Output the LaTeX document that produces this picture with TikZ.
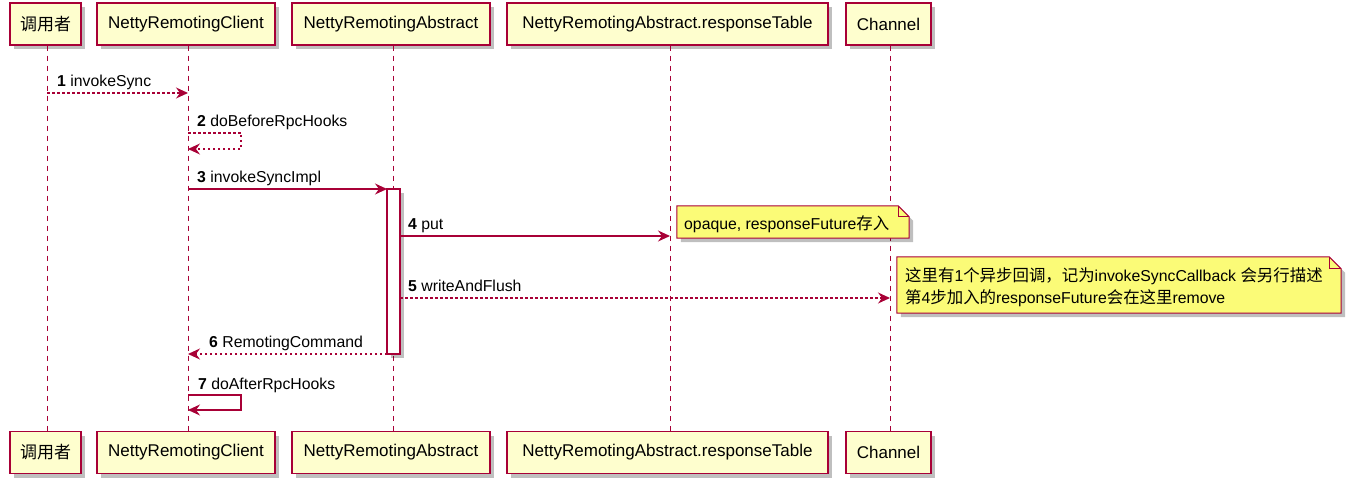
\documentclass[tikz,border=0pt]{standalone}
\usepackage{fontspec}
\setmainfont{Liberation Sans}
\newfontfamily\cjkf{Noto Sans CJK SC}
\newfontfamily\cjkn[Scale=1.04]{Noto Sans CJK SC}
\usetikzlibrary{arrows.meta,shadows}
\definecolor{pborder}{HTML}{A80036}
\definecolor{pfill}{HTML}{FEFECE}
\definecolor{nfill}{HTML}{FBFB77}
\newcommand{\zh}[1]{{\cjkf #1}}
\newcommand{\zn}[1]{{\cjkn #1}}
\tikzset{
  shad/.style={drop shadow={shadow xshift=4pt,shadow yshift=-4pt,opacity=0.25,fill=black}},
  part/.style={rectangle,draw=pborder,line width=1.5pt,fill=pfill,shad,
    minimum height=42pt,inner sep=0pt,font=\fontsize{17}{20}\selectfont},
  lifeline/.style={draw=pborder,line width=1pt,dash pattern=on 5pt off 5pt},
  tip/.style={-{Stealth[length=12pt,width=11pt,inset=4pt]}},
  smsg/.style={tip,draw=pborder,line width=1.1pt},
  dmsg/.style={tip,draw=pborder,line width=1.1pt,dash pattern=on 2.5pt off 2.5pt},
  lbl/.style={anchor=base west,inner sep=0pt,font=\fontsize{15.8}{19}\selectfont},
  notebox/.style={draw=pborder,line width=1pt,fill=nfill,shad},
  notetext/.style={anchor=west,inner sep=0pt,align=left,font=\fontsize{15.8}{22}\selectfont},
  act/.style={rectangle,draw=pborder,line width=1.3pt,fill=white,shad,inner sep=0pt}
}
\begin{document}
\begin{tikzpicture}[x=1pt,y=-1pt]
\useasboundingbox (0,0) rectangle (1355,486);
% participants
\node[part,minimum width=71pt]  (p1t) at (45.5,24) {\zh{调用者}};
\node[part,minimum width=178pt] (p2t) at (186,24) {NettyRemotingClient};
\node[part,minimum width=198pt] (p3t) at (391,24) {NettyRemotingAbstract};
\node[part,minimum width=321pt] (p4t) at (667.5,24) {NettyRemotingAbstract.responseTable};
\node[part,minimum width=85pt]  (p5t) at (888.5,24) {Channel};
\node[part,minimum width=71pt]  (p1b) at (45.5,452.5) {\zh{调用者}};
\node[part,minimum width=178pt] (p2b) at (186,452.5) {NettyRemotingClient};
\node[part,minimum width=198pt] (p3b) at (391,452.5) {NettyRemotingAbstract};
\node[part,minimum width=321pt] (p4b) at (667.5,452.5) {NettyRemotingAbstract.responseTable};
\node[part,minimum width=85pt]  (p5b) at (888.5,452.5) {Channel};
% lifelines
\draw[lifeline] ([xshift=1.5pt]p1t.south) -- ([xshift=1.5pt]p1b.north);
\draw[lifeline] ([xshift=2pt]p2t.south) -- ([xshift=2pt]p2b.north);
\draw[lifeline] ([xshift=2pt]p3t.south) -- ([xshift=2pt]p3b.north);
\draw[lifeline] ([xshift=2.5pt]p4t.south) -- ([xshift=2.5pt]p4b.north);
\draw[lifeline] ([xshift=1.5pt]p5t.south) -- ([xshift=1.5pt]p5b.north);
% activation
\node[act,minimum width=13pt,minimum height=165pt] (a3) at (393.5,271.5) {};
% coordinates
\coordinate (m1a) at (47,93);   \coordinate (m1b) at (188,93);
\coordinate (m2a) at (188,133); \coordinate (m2b) at (188,149);
\coordinate (m3a) at (188,189); \coordinate (m3b) at (387,189);
\coordinate (m4a) at (400,236); \coordinate (m4b) at (670,236);
\coordinate (m5a) at (400,298); \coordinate (m5b) at (890,298);
\coordinate (m6a) at (387,354); \coordinate (m6b) at (188,354);
\coordinate (m7a) at (188,395); \coordinate (m7b) at (188,410);
% messages
\draw[dmsg] (m1a) -- (m1b);
\node[lbl] (l1) at (57,87) {\textbf{1} invokeSync};
\draw[dmsg] (m2a) -- ++(53,0) |- (m2b);
\node[lbl] (l2) at (197,127) {\textbf{2} doBeforeRpcHooks};
\draw[smsg] (m3a) -- (m3b);
\node[lbl] (l3) at (197,183) {\textbf{3} invokeSyncImpl};
\draw[smsg] (m4a) -- (m4b);
\node[lbl] (l4) at (408,230) {\textbf{4} put};
\draw[dmsg] (m5a) -- (m5b);
\node[lbl] (l5) at (408,292) {\textbf{5} writeAndFlush};
\draw[dmsg] (m6a) -- (m6b);
\node[lbl] (l6) at (209,348) {\textbf{6} RemotingCommand};
\draw[smsg] (m7a) -- ++(53,0) |- (m7b);
\node[lbl] (l7) at (198,389) {\textbf{7} doAfterRpcHooks};
% note 1
\node[minimum width=232pt,minimum height=32pt,inner sep=0pt] (n1) at (793,222) {};
\draw[notebox] (n1.south west) -- (n1.north west) -- ([xshift=-11pt]n1.north east)
  -- ([yshift=-11pt]n1.north east) -- (n1.south east) -- cycle;
\draw[draw=pborder,line width=1pt] ([xshift=-11pt]n1.north east) |- ([yshift=-11pt]n1.north east);
\node[notetext] (t1) at (684,224) {opaque, responseFuture\zn{存入}};
% note 2
\node[minimum width=444pt,minimum height=56pt,inner sep=0pt] (n2) at (1119,285) {};
\draw[notebox] (n2.south west) -- (n2.north west) -- ([xshift=-12pt]n2.north east)
  -- ([yshift=-12pt]n2.north east) -- (n2.south east) -- cycle;
\draw[draw=pborder,line width=1pt] ([xshift=-12pt]n2.north east) |- ([yshift=-12pt]n2.north east);
\node[notetext] (t2) at (905,287) {\zn{这里有}1\zn{个异步回调，记为}invokeSyncCallback \zn{会另行描述}\\
\zn{第}4\zn{步加入的}responseFuture\zn{会在这里}remove};
\end{tikzpicture}
\end{document}
